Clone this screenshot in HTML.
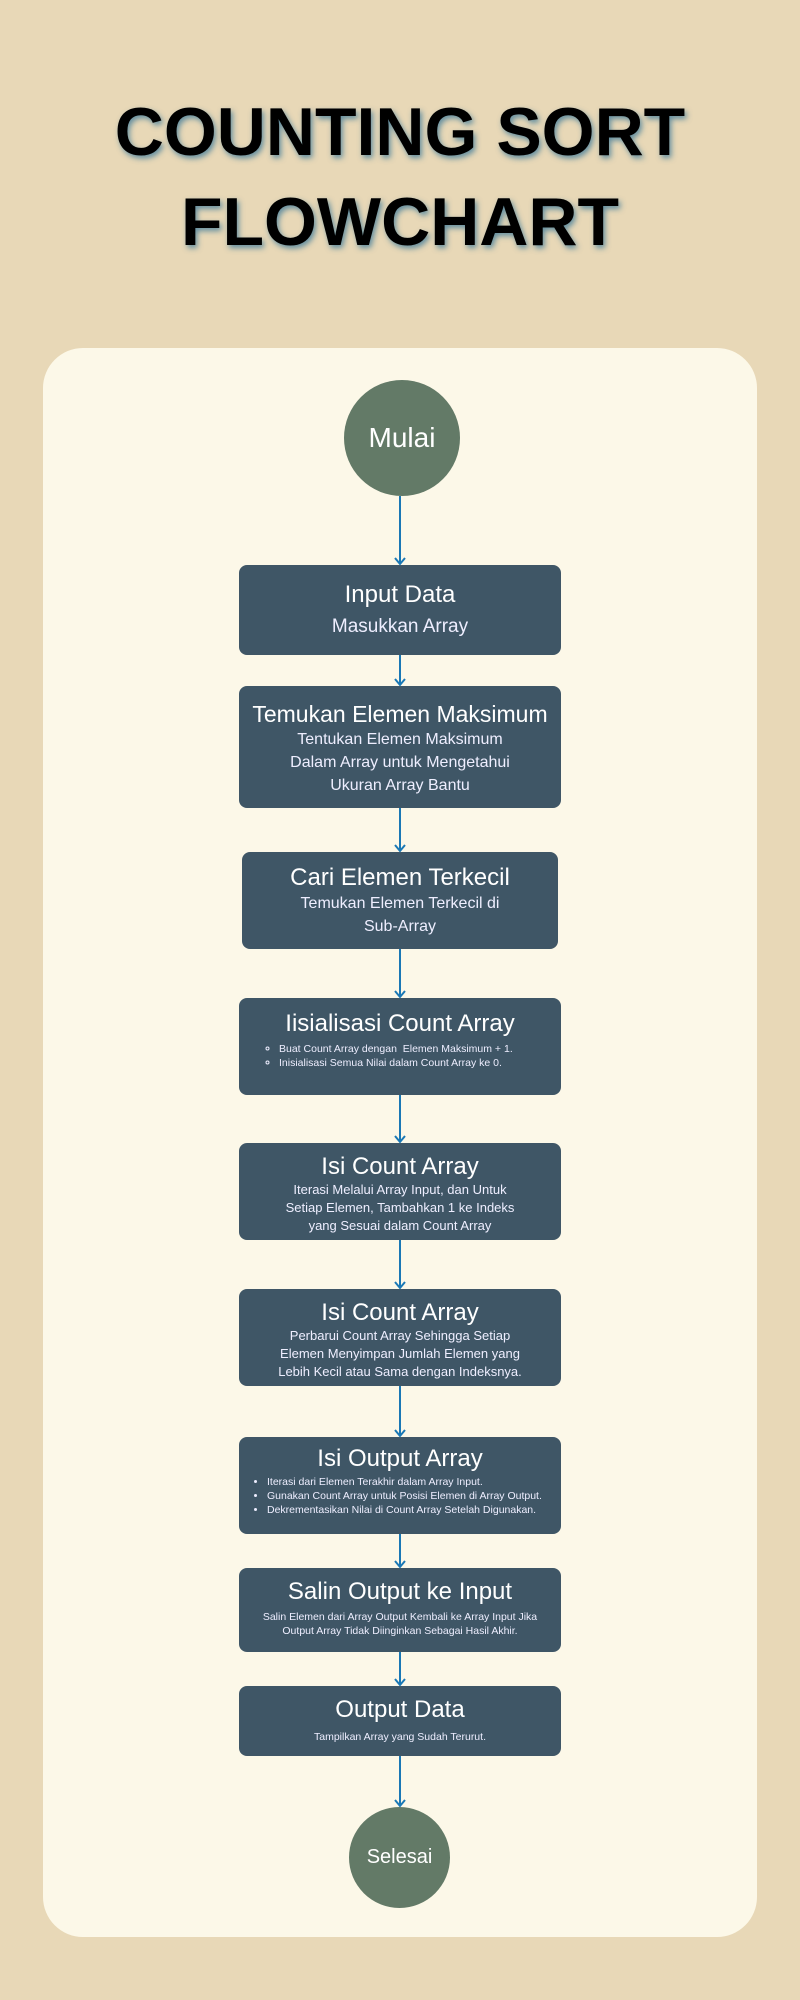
<!DOCTYPE html>
<html><head><meta charset="utf-8"><style>
*{margin:0;padding:0;box-sizing:border-box}
body{width:800px;height:2000px;background:#e8d8b7;position:relative;overflow:hidden;font-family:"Liberation Sans",sans-serif}
.title{position:absolute;left:0;width:800px;text-align:center;font-weight:900;font-size:68px;color:#000;letter-spacing:0px;text-shadow:2px 3px 6px rgba(40,110,150,.7);line-height:1}
.card{position:absolute;left:43px;top:348px;width:714px;height:1589px;background:#fcf8e8;border-radius:40px}
.box{position:absolute;left:239px;width:322px;background:#3f5666;border-radius:8px;color:#fff;text-align:center;padding-top:12px}
.box h2{font-weight:normal;font-size:24px;line-height:28px}
.box p{font-size:16px;line-height:23px;color:#eef}
.box ul{text-align:left;font-size:10.5px;line-height:14px;padding-left:40px;margin-top:4px;color:#eef}
.circ{position:absolute;border-radius:50%;background:#637a67;color:#fff;display:flex;align-items:center;justify-content:center}
svg{position:absolute;left:0;top:0}
</style></head><body>
<div class="title" style="top:98px">COUNTING SORT</div>
<div class="title" style="top:188px">FLOWCHART</div>
<div class="card"></div>
<div class="circ" style="left:344px;top:380px;width:116px;height:116px;font-size:28px">Mulai</div>
<div class="box" style="top:565px;height:90px;padding-top:16px"><h2>Input Data</h2><p style="margin-top:6px;font-size:19px">Masukkan Array</p></div>
<div class="box" style="top:686px;height:122px;padding-top:14px"><h2 style="font-size:23px">Temukan Elemen Maksimum</h2><p style="padding:0 34px">Tentukan Elemen Maksimum Dalam Array untuk Mengetahui Ukuran Array Bantu</p></div>
<div class="box" style="top:852px;height:97px;left:242px;width:316px"><h2>Cari Elemen Terkecil</h2><p style="padding:0 40px">Temukan Elemen Terkecil di Sub&#8209;Array</p></div>
<div class="box" style="top:998px;height:97px"><h2>Iisialisasi Count Array</h2><ul style="list-style:circle"><li>Buat Count Array dengan &nbsp;Elemen Maksimum + 1.</li><li>Inisialisasi Semua Nilai dalam Count Array ke 0.</li></ul></div>
<div class="box" style="top:1143px;height:97px;padding-top:10px"><h2>Isi Count Array</h2><p style="font-size:13px;line-height:18px;padding:0 38px">Iterasi Melalui Array Input, dan Untuk Setiap Elemen, Tambahkan 1 ke Indeks yang Sesuai dalam Count Array</p></div>
<div class="box" style="top:1289px;height:97px;padding-top:10px"><h2>Isi Count Array</h2><p style="font-size:13px;line-height:18px;padding:0 30px">Perbarui Count Array Sehingga Setiap Elemen Menyimpan Jumlah Elemen yang Lebih Kecil atau Sama dengan Indeksnya.</p></div>
<div class="box" style="top:1437px;height:97px;padding-top:8px"><h2>Isi Output Array</h2><ul style="padding-left:28px;margin-top:2px"><li>Iterasi dari Elemen Terakhir dalam Array Input.</li><li>Gunakan Count Array untuk Posisi Elemen di Array Output.</li><li>Dekrementasikan Nilai di Count Array Setelah Digunakan.</li></ul></div>
<div class="box" style="top:1568px;height:84px;padding-top:10px"><h2>Salin Output ke Input</h2><p style="font-size:10.5px;line-height:14px;margin-top:4px;padding:0 10px">Salin Elemen dari Array Output Kembali ke Array Input Jika Output Array Tidak Diinginkan Sebagai Hasil Akhir.</p></div>
<div class="box" style="top:1686px;height:70px;padding-top:10px"><h2>Output Data</h2><p style="font-size:10.5px;line-height:14px;margin-top:6px">Tampilkan Array yang Sudah Terurut.</p></div>
<div class="circ" style="left:349px;top:1807px;width:101px;height:101px;font-size:20px">Selesai</div>
<svg width="800" height="2000" fill="none" stroke="#1a78b5" stroke-width="2">
<path d="M400 496V564M395 558l5 6 5-6"/>
<path d="M400 655V685M395 679l5 6 5-6"/>
<path d="M400 808V851M395 845l5 6 5-6"/>
<path d="M400 949V997M395 991l5 6 5-6"/>
<path d="M400 1095V1142M395 1136l5 6 5-6"/>
<path d="M400 1240V1288M395 1282l5 6 5-6"/>
<path d="M400 1386V1436M395 1430l5 6 5-6"/>
<path d="M400 1534V1567M395 1561l5 6 5-6"/>
<path d="M400 1652V1685M395 1679l5 6 5-6"/>
<path d="M400 1756V1806M395 1800l5 6 5-6"/>
</svg>
</body></html>
